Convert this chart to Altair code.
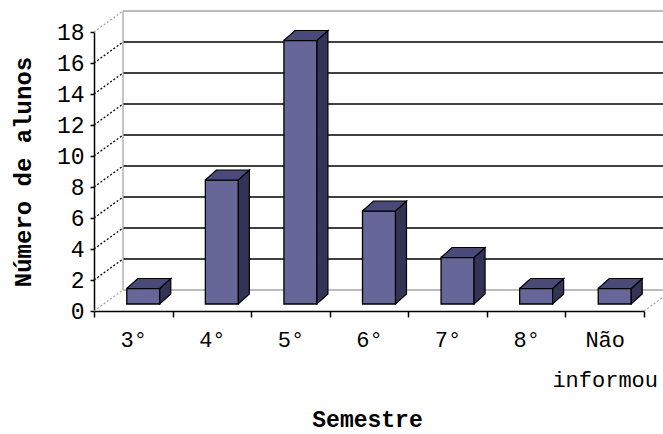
import altair as alt
import pandas as pd

# ---- data ----
categories = ["3°", "4°", "5°", "6°", "7°", "8°", "Não informou"]
counts = [1, 8, 17, 6, 3, 1, 1]
y_ticks = [0, 2, 4, 6, 8, 10, 12, 14, 16, 18]

# ---- style constants (pixels) ----
PLOT_W, PLOT_H = 550, 279
W = 33        # bar front-face width
SHIFT = 10    # bar face centre shift right of band centre
LIFT = 7      # bar base lifted above the front floor edge
DX, DY = 11, 10   # bar depth
WALL_DX, WALL_DY = 29, 21  # chart depth (back wall offset)

FRONT = "#666699"
TOP = "#4a4a78"
SIDE = "#333355"
GRAY = "#a6a6a6"
MONO = "Liberation Mono"

N = len(categories)
YMAX = y_ticks[-1]
kx = N / PLOT_W      # data units per pixel (x index)
ky = YMAX / PLOT_H   # data units per pixel (y)

bars = pd.DataFrame({"cat": categories, "yv": counts})

# polygon templates: (order, x offset px, uses bar top?, y offset px; negative = up)
xl, xr = SHIFT - W / 2, SHIFT + W / 2
top_tpl = [(0, xl, True, -LIFT), (1, xl + DX, True, -LIFT - DY),
           (2, xr + DX, True, -LIFT - DY), (3, xr, True, -LIFT), (4, xl, True, -LIFT)]
side_tpl = [(0, xr, True, -LIFT), (1, xr + DX, True, -LIFT - DY),
            (2, xr + DX, False, -LIFT - DY), (3, xr, False, -LIFT), (4, xr, True, -LIFT)]


def polys(tpl):
    rows = []
    for i, (c, v) in enumerate(zip(categories, counts)):
        for o, dx, is_top, dy in tpl:
            base = v if is_top else 0
            rows.append({"cat": c, "px": i + 0.5 + dx * kx, "py": base - dy * ky, "ord": o})
    return pd.DataFrame(rows)


top_df = polys(top_tpl)
side_df = polys(side_tpl)
grid_df = pd.DataFrame({"yv": y_ticks, "edge": [v in (0, YMAX) for v in y_ticks]})

xscale = alt.Scale(domain=categories, paddingInner=0, paddingOuter=0)
yscale = alt.Scale(domain=[0, YMAX], nice=False, zero=True)
pxscale = alt.Scale(domain=[0, N], nice=False, zero=False)

x_axis = alt.Axis(
    title="Semestre", titleFont=MONO, titleFontSize=23, titleFontWeight="bold",
    titleColor="black", titleX=273, titleY=108, titleBaseline="middle", titleAlign="center",
    labelFont=MONO, labelFontSize=22, labelColor="black", labelAngle=0,
    labelPadding=12, labelLineHeight=40, labelOverlap=False, labelBound=False,
    labelBaseline="top",
    labelExpr="datum.label == 'Não informou' ? ['Não', 'informou'] : datum.label",
    tickBand="extent", tickSize=6, tickColor="black", domainColor="black",
    domainWidth=1.5, tickWidth=1.5, grid=False,
)
y_axis = alt.Axis(
    title="Número de alunos", titleFont=MONO, titleFontSize=24, titleFontWeight="bold",
    titleColor="black", titleX=-71, titleY=139.5, titleBaseline="middle", titleAlign="center",
    titleAngle=-90,
    values=y_ticks, labelFont=MONO, labelFontSize=23, labelColor="black",
    labelPadding=6, tickSize=4, tickColor="black", domainColor="black",
    domainWidth=1.5, tickWidth=1.5, grid=False,
)

X = alt.X("cat:N", sort=categories, scale=xscale, axis=x_axis)
Y = alt.Y("yv:Q", scale=yscale, axis=y_axis)

edge_color = alt.condition("datum.edge", alt.value(GRAY), alt.value("#000000"))

# back wall horizontal gridlines
back_grid = alt.Chart(grid_df).mark_rule(yOffset=-WALL_DY, strokeWidth=1.5).encode(
    y=Y, x=alt.value(WALL_DX), x2=alt.value(PLOT_W + WALL_DX + 40), color=edge_color
)
# dotted connectors from front ticks to back wall
connectors = alt.Chart(grid_df).mark_rule(y2Offset=-WALL_DY, strokeDash=[2, 2], strokeWidth=1.3).encode(
    y=Y, y2=alt.Y2("yv:Q"), x=alt.value(0), x2=alt.value(WALL_DX), color=edge_color
)
# back wall left edge
wall_edge = alt.Chart(grid_df).mark_rule(yOffset=-WALL_DY, y2Offset=-WALL_DY, color=GRAY, strokeWidth=1.3).encode(
    y=alt.Y("min(yv):Q", scale=yscale, axis=y_axis), y2=alt.Y2("max(yv)"), x=alt.value(WALL_DX)
)
# right floor edge
floor_edge = alt.Chart(grid_df).transform_filter("datum.yv == 0").mark_rule(
    y2Offset=-WALL_DY, strokeDash=[2, 2], color=GRAY, strokeWidth=1.3
).encode(
    y=Y, y2=alt.Y2("yv:Q"), x=alt.value(PLOT_W), x2=alt.value(PLOT_W + WALL_DX)
)

front = alt.Chart(bars).mark_bar(
    width=W, xOffset=SHIFT, yOffset=-LIFT, y2Offset=-LIFT,
    fill=FRONT, stroke="black", strokeWidth=1.3,
).encode(x=X, y=Y)

base_layers = alt.layer(back_grid, connectors, wall_edge, floor_edge, front)


def face_layer(df, color):
    return alt.Chart(df).mark_line(fill=color, stroke="black", strokeWidth=1.2, interpolate="linear").encode(
        x=alt.X("px:Q", scale=pxscale, axis=None),
        y=alt.Y("py:Q", scale=yscale, axis=y_axis),
        order="ord:Q", detail="cat:N",
    )


faces = alt.layer(face_layer(side_df, SIDE), face_layer(top_df, TOP))

chart = alt.layer(base_layers, faces).resolve_scale(x="independent").properties(
    width=PLOT_W, height=PLOT_H,
    autosize=alt.AutoSizeParams(type="none"),
    padding={"left": 94, "top": 32, "right": 19, "bottom": 123},
    background="white",
).configure_view(stroke=None)

chart.save("out.html", embed_options={"renderer": "svg", "actions": False})
